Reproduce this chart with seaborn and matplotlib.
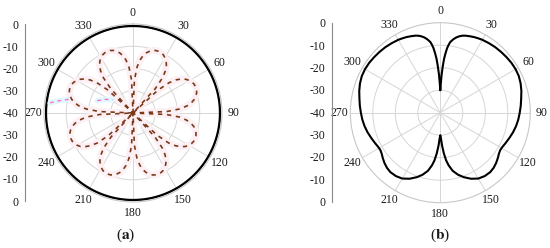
import numpy as np
import matplotlib
matplotlib.use("Agg")
import matplotlib.pyplot as plt
from matplotlib.ticker import MultipleLocator
import seaborn as sns

# ---------------- data ----------------
angle_labels = ["0", "30", "60", "90", "120", "150", "180", "210", "240", "270", "300", "330"]
angle_ticks = [0, 30, 60, 90, 120, 150, 180, 210, 240, 270, 300, 330]
scale_pos = [0, 10, 20, 30, 40, 50, 60, 70, 80]
scale_labels = ["0", "-10", "-20", "-30", "-40", "-30", "-20", "-10", "0"]

# panel (a): eight-petal pattern (dB), sampled every 2.5 degrees
a_angles = [0, 2.5, 5, 7.5, 10, 12.5, 15, 17.5, 20, 22.5, 25, 27.5, 30, 32.5, 35, 37.5, 40, 42.5,
            45, 47.5, 50, 52.5, 55, 57.5, 60, 62.5, 65, 67.5, 70, 72.5, 75, 77.5, 80, 82.5, 85, 87.5,
            90, 92.5, 95, 97.5, 100, 102.5, 105, 107.5, 110, 112.5, 115, 117.5, 120, 122.5, 125, 127.5, 130, 132.5,
            135, 137.5, 140, 142.5, 145, 147.5, 150, 152.5, 155, 157.5, 160, 162.5, 165, 167.5, 170, 172.5, 175, 177.5,
            180, 182.5, 185, 187.5, 190, 192.5, 195, 197.5, 200, 202.5, 205, 207.5, 210, 212.5, 215, 217.5, 220, 222.5,
            225, 227.5, 230, 232.5, 235, 237.5, 240, 242.5, 245, 247.5, 250, 252.5, 255, 257.5, 260, 262.5, 265, 267.5,
            270, 272.5, 275, 277.5, 280, 282.5, 285, 287.5, 290, 292.5, 295, 297.5, 300, 302.5, 305, 307.5, 310, 312.5,
            315, 317.5, 320, 322.5, 325, 327.5, 330, 332.5, 335, 337.5, 340, 342.5, 345, 347.5, 350, 352.5, 355, 357.5,
            360]
a_db = [-40, -25.2, -19.3, -16.0, -13.8, -12.3, -11.3, -10.5, -10.1, -10.0, -10.1, -10.5, -11.3, -12.3, -13.8, -16.0, -19.3, -25.2,
        -40, -24.8, -18.8, -15.5, -13.3, -11.8, -10.8, -10.0, -9.6, -9.5, -9.6, -10.0, -10.8, -11.8, -13.3, -15.5, -18.8, -24.8,
        -40, -25.0, -19.0, -15.8, -13.6, -12.0, -11.0, -10.3, -9.9, -9.8, -9.9, -10.3, -11.0, -12.0, -13.6, -15.8, -19.0, -25.0,
        -40, -25.4, -19.6, -16.3, -14.1, -12.6, -11.6, -10.8, -10.4, -10.3, -10.4, -10.8, -11.6, -12.6, -14.1, -16.3, -19.6, -25.4,
        -40, -25.4, -19.6, -16.3, -14.1, -12.6, -11.6, -10.8, -10.4, -10.3, -10.4, -10.8, -11.6, -12.6, -14.1, -16.3, -19.6, -25.4,
        -40, -25.0, -19.0, -15.8, -13.6, -12.0, -11.0, -10.3, -9.9, -9.8, -9.9, -10.3, -11.0, -12.0, -13.6, -15.8, -19.0, -25.0,
        -40, -24.8, -18.8, -15.5, -13.3, -11.8, -10.8, -10.0, -9.6, -9.5, -9.6, -10.0, -10.8, -11.8, -13.3, -15.5, -18.8, -24.8,
        -40, -25.2, -19.3, -16.0, -13.8, -12.3, -11.3, -10.5, -10.1, -10.0, -10.1, -10.5, -11.3, -12.3, -13.8, -16.0, -19.3, -25.2,
        -40]
# panel (a): omnidirectional reference level (dB)
a_ref_db = [-0.9] * len(a_angles)
# panel (a): small visible fragments of a further trace
a_frag1_angles = [277, 279.5, 282]
a_frag1_db = [-2.5, -6.5, -10.5]
a_frag2_angles = [289, 296, 303]
a_frag2_db = [-23, -26, -29]

# panel (b): butterfly pattern (dB)
b_angles = [0, 1, 2, 3, 4, 5, 6, 7, 8, 10, 12, 14, 16, 18, 21, 24, 27, 30, 35, 40, 45, 50, 55, 60, 65, 70, 75, 80, 85,
            90, 95, 100, 105, 110, 115, 119, 122, 125, 128, 132, 136, 140, 145, 150, 155, 160, 164, 168, 171, 173, 175,
            177, 178.5, 180,
            181.5, 183, 185, 187, 189, 192, 196, 200, 205, 210, 215, 220, 224, 228, 232, 235, 238, 241, 245, 250, 255,
            260, 265, 270, 275, 280, 285, 290, 295, 300, 305, 310, 315, 320, 325, 330, 333, 336, 339, 342, 344, 346,
            348, 350, 352, 353, 354, 355, 356, 357, 358, 359, 360]
b_db = [-30.0, -27.0, -23.0, -19.5, -16.0, -13.5, -11.2, -9.6, -8.3, -6.9, -5.8, -5.0, -4.4, -4.0, -3.6, -3.2, -2.9,
        -2.6, -2.3, -2.0, -1.8, -1.6, -1.4, -1.35, -1.5, -2.0, -2.7, -3.5, -4.1,
        -4.7, -5.2, -5.8, -6.5, -7.3, -8.0, -8.5, -8.6, -8.2, -7.5, -6.6, -5.9, -5.5, -5.6, -6.2, -7.6, -9.5, -11.3,
        -13.6, -16.3, -18.6, -21.8, -25.5, -28.5, -30.0,
        -28.5, -25.5, -21.8, -18.6, -16.3, -13.6, -11.3, -9.5, -7.6, -6.2, -5.6, -5.5, -5.9, -6.6, -7.5, -8.2, -8.6,
        -8.5, -8.0, -7.3, -6.5, -5.8, -5.2, -4.7, -4.1, -3.5, -2.7, -2.0, -1.5, -1.35, -1.4, -1.6, -1.8, -2.0, -2.3,
        -2.6, -2.9, -3.2, -3.6, -4.0, -4.4, -5.0, -5.8, -6.9, -8.3, -9.6, -11.2, -13.5, -16.0, -19.5, -23.0, -27.0,
        -30.0]

# ---------------- style ----------------
sns.set_style("white")
plt.rcParams["font.family"] = ["Liberation Serif", "DejaVu Serif"]
plt.rcParams["mathtext.fontset"] = "stix"

GRID = "#d6d6d6"
TXT = "#1a1a1a"
BROWN = "#7a3a1a"

fig = plt.figure(figsize=(5.5, 2.48), dpi=100)


def setup_polar(ax):
    ax.set_theta_zero_location("N")
    ax.set_theta_direction(-1)
    ax.set_ylim(-40, 0)
    ax.set_yticks([-30, -20, -10])
    ax.set_yticklabels([])
    ax.set_xticks(np.deg2rad(angle_ticks))
    ax.set_xticklabels([])
    ax.grid(True, color=GRID, linewidth=0.7)
    ax.spines["polar"].set_color("#c8c8c8")
    ax.spines["polar"].set_linewidth(0.8)
    # angle labels just outside the rim
    for t, lab in zip(angle_ticks, angle_labels):
        ax.text(np.deg2rad(t), 5.0, lab, ha="center", va="center", fontsize=8.5, color=TXT,
                clip_on=False)


def finish_polar(ax):
    ax.set_ylim(-40, 0)
    ax.set_xlabel("")
    ax.set_ylabel("")


def scale_axis(rect):
    sax = fig.add_axes(rect)
    sax.set_ylim(0, 80)
    sax.set_xlim(0, 1)
    for s in ["top", "right", "bottom"]:
        sax.spines[s].set_visible(False)
    sax.spines["left"].set_color("#8a8a8a")
    sax.spines["left"].set_linewidth(0.8)
    sax.set_xticks([])
    sax.set_yticks(scale_pos)
    sax.set_yticklabels(scale_labels)
    sax.yaxis.set_minor_locator(MultipleLocator(2))
    sax.tick_params(axis="y", which="major", length=3, width=0.7, direction="out",
                    color="#8a8a8a", pad=1.5, labelsize=8.5, labelcolor=TXT)
    sax.tick_params(axis="y", which="minor", length=2, width=0.5, direction="in", color="#b0b0b0")
    sax.patch.set_alpha(0)
    return sax


# ---------------- panel (a) ----------------
axA = fig.add_axes([0.0800, 0.1855, 0.3236, 0.7177], projection="polar")
setup_polar(axA)
ta = np.deg2rad(a_angles)
# faint pink halo of the pattern
sns.lineplot(x=ta, y=a_db, ax=axA, sort=False, estimator=None, color="#fdf0f4", linewidth=5)
# reference level
sns.lineplot(x=ta, y=a_ref_db, ax=axA, sort=False, estimator=None, color="black", linewidth=1.6)
# fragments of another trace
sns.lineplot(x=np.deg2rad(a_frag1_angles), y=a_frag1_db, ax=axA, sort=False, estimator=None,
             color="#e3f8fa", linewidth=4)
sns.lineplot(x=np.deg2rad(a_frag2_angles), y=a_frag2_db, ax=axA, sort=False, estimator=None,
             color="#e3f8fa", linewidth=4)
l1 = sns.lineplot(x=np.deg2rad(a_frag1_angles), y=a_frag1_db, ax=axA, sort=False, estimator=None,
                  color="#ff5fdc", linewidth=0.9).lines[-1]
l1.set_dashes([3, 3])
l2 = sns.lineplot(x=np.deg2rad(a_frag2_angles), y=a_frag2_db, ax=axA, sort=False, estimator=None,
                  color="#ff5fdc", linewidth=0.9).lines[-1]
l2.set_dashes([3, 3])
# main dashed pattern
lm = sns.lineplot(x=ta, y=a_db, ax=axA, sort=False, estimator=None, color=BROWN, linewidth=1.2).lines[-1]
lm.set_dashes([2.6, 2.8])
finish_polar(axA)

scale_axis([25 / 550, 0.1895, 0.0005, 0.7137])

# ---------------- panel (b) ----------------
axB = fig.add_axes([0.6369, 0.1827, 0.3273, 0.7258], projection="polar")
setup_polar(axB)
sns.lineplot(x=np.deg2rad(b_angles), y=b_db, ax=axB, sort=False, estimator=None, color="black", linewidth=1.5)
finish_polar(axB)

scale_axis([331.7 / 550, 0.1867, 0.0005, 0.7218])

# panel labels
fig.text(126 / 550, 1 - 235 / 248, r"($\mathbf{a}$)", ha="center", va="center", fontsize=11, color=TXT)
fig.text(440 / 550, 1 - 235 / 248, r"($\mathbf{b}$)", ha="center", va="center", fontsize=11, color=TXT)

fig.savefig("out.png", dpi=100, facecolor="white")
